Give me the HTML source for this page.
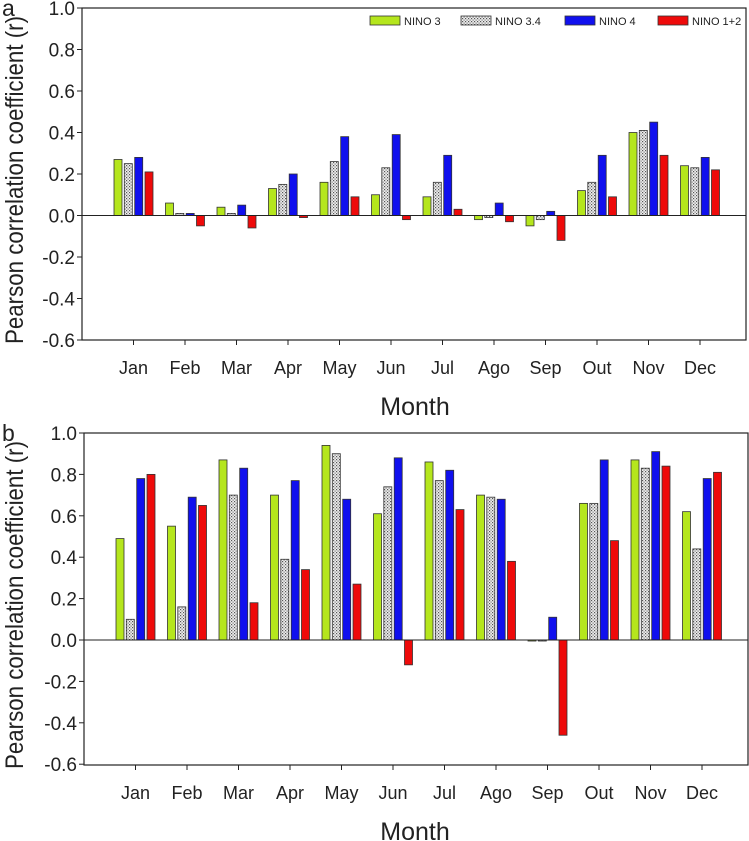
<!DOCTYPE html>
<html><head><meta charset="utf-8"><style>
body{margin:0;background:#fff}
svg{display:block;font-family:"Liberation Sans",Arial,sans-serif}
</style></head><body>
<svg id="c" width="749" height="841"></svg>
<script>
const months=["Jan","Feb","Mar","Apr","May","Jun","Jul","Ago","Sep","Out","Nov","Dec"];
const seriesNames=["NINO 3","NINO 3.4","NINO 4","NINO 1+2"];
const aNino3=[0.27,0.06,0.04,0.13,0.16,0.10,0.09,-0.02,-0.05,0.12,0.40,0.24];
const aNino34=[0.25,0.01,0.01,0.15,0.26,0.23,0.16,-0.01,-0.02,0.16,0.41,0.23];
const aNino4=[0.28,0.01,0.05,0.20,0.38,0.39,0.29,0.06,0.02,0.29,0.45,0.28];
const aNino12=[0.21,-0.05,-0.06,-0.01,0.09,-0.02,0.03,-0.03,-0.12,0.09,0.29,0.22];
const bNino3=[0.49,0.55,0.87,0.70,0.94,0.61,0.86,0.70,-0.005,0.66,0.87,0.62];
const bNino34=[0.10,0.16,0.70,0.39,0.90,0.74,0.77,0.69,-0.005,0.66,0.83,0.44];
const bNino4=[0.78,0.69,0.83,0.77,0.68,0.88,0.82,0.68,0.11,0.87,0.91,0.78];
const bNino12=[0.80,0.65,0.18,0.34,0.27,-0.12,0.63,0.38,-0.46,0.48,0.84,0.81];
const yTicks=[1.0,0.8,0.6,0.4,0.2,0.0,-0.2,-0.4,-0.6];
const NS="http://www.w3.org/2000/svg";
const svg=document.getElementById('c');
function mk(t,a,p){const e=document.createElementNS(NS,t);for(const k in a)e.setAttribute(k,a[k]);(p||svg).appendChild(e);return e;}
const defs=mk('defs',{});
const pat=mk('pattern',{id:'dots',width:3,height:3,patternUnits:'userSpaceOnUse'},defs);
mk('rect',{width:3,height:3,fill:'#eee'},pat);
mk('rect',{x:0,y:0,width:1.2,height:1.2,fill:'#555'},pat);
mk('rect',{x:1.5,y:1.5,width:1.2,height:1.2,fill:'#777'},pat);
const fills=['#b5e61d','url(#dots)','#1010ee','#ee0a0a'];
function panel(P,data,letter,name){
  const g=mk('g',{});
  
  
  const y=v=>P.zero-(v)*(P.zero-P.top);
  const x=i=>P.x0+i*P.step;
  const box=mk('rect',{x:P.left,y:P.top,width:P.right-P.left,height:P.bottom-P.top,fill:'none',stroke:'#222','stroke-width':1.2},g);
  
  
  yTicks.forEach(t=>{
    mk('line',{x1:P.left-5,x2:P.left,y1:y(t),y2:y(t),stroke:'#222'},g);
    const tx=mk('text',{x:P.left-7,y:y(t)+7,'text-anchor':'end','font-size':19,fill:'#222'},g);
    tx.textContent=t.toFixed(1);
    
    
  });
  months.forEach((m,i)=>{
    mk('line',{x1:x(i),x2:x(i),y1:P.bottom,y2:P.bottom+5,stroke:'#222'},g);
    const tx=mk('text',{x:x(i),y:P.bottom+34,'text-anchor':'middle','font-size':18,fill:'#222'},g);
    tx.textContent=m;
    
    
  });
  const offs=[-15.5,-5.2,5.2,15.5];
  data.forEach((arr,s)=>arr.forEach((v,i)=>{
    const y0=y(0),y1=y(v);
    const r=mk('rect',{x:x(i)+offs[s]-4,y:Math.min(y0,y1),width:8,height:Math.max(Math.abs(y1-y0),0.8),fill:fills[s],stroke:'#333','stroke-width':0.8},g);
    
    
  }));
  mk('line',{x1:P.left,x2:P.right,y1:y(0),y2:y(0),stroke:'#222','stroke-width':1},g);
  const yl=mk('text',{x:0,y:0,transform:`translate(23,${(P.top+P.bottom)/2+6}) rotate(-90)`,'text-anchor':'middle','font-size':25,textLength:328,lengthAdjust:'spacingAndGlyphs',fill:'#222'},g);
  yl.textContent='Pearson correlation coefficient (r)';
  
  
  const xl=mk('text',{x:415,y:P.bottom+75,'text-anchor':'middle','font-size':25,fill:'#222'},g);
  xl.textContent='Month';
  
  
  const pl=mk('text',{x:2,y:P.top+8,'font-size':23,fill:'#222'},g);
  pl.textContent=letter;
  
  
}
panel({left:82,right:746,top:8,bottom:340,zero:215.5,x0:133.5,step:51.5},[aNino3,aNino34,aNino4,aNino12],'a','panel-a');
panel({left:84,right:748,top:433,bottom:765,zero:640,x0:135.5,step:51.5},[bNino3,bNino34,bNino4,bNino12],'b','panel-b');
const lg=mk('g',{});


const lx=[370,461,565,658];
seriesNames.forEach((n,i)=>{
  const r=mk('rect',{x:lx[i],y:16,width:30,height:9,fill:fills[i],stroke:'#333','stroke-width':0.8},lg);
  
  
  const t=mk('text',{x:lx[i]+34,y:25,'font-size':11,fill:'#222'},lg);
  t.textContent=n;
  
  
});
</script>
</body></html>
